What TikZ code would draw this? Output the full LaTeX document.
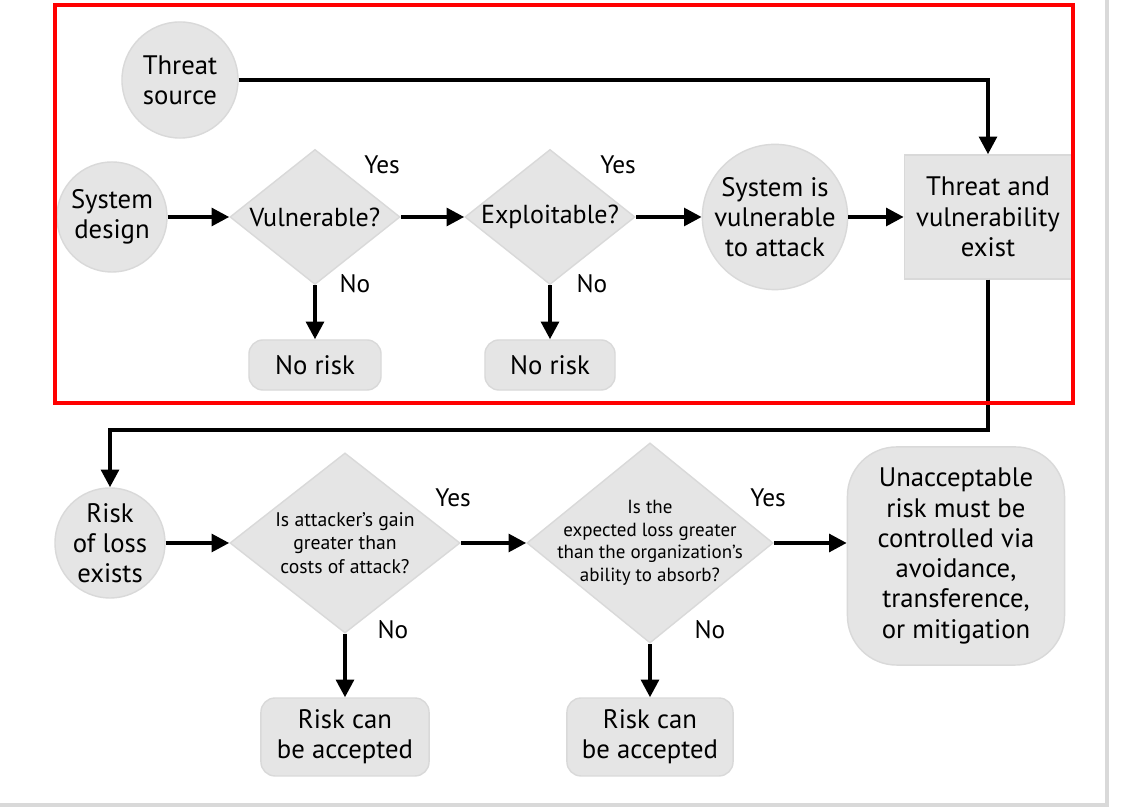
\documentclass[tikz,border=0pt]{standalone}
\usepackage{fontspec}
\setmainfont{PT Sans}
\usetikzlibrary{arrows.meta,shapes.geometric}
\begin{document}
\begin{tikzpicture}[x=0.01cm,y=-0.01cm,
    blob/.style={circle, fill=black!10, draw=black!15, inner sep=0pt, align=center, font=\fontsize{7.6}{8.6}\selectfont},
    dia/.style={diamond, fill=black!10, draw=black!15, inner sep=0pt, align=center, aspect=1.3},
    box/.style={rectangle, rounded corners=4pt, fill=black!10, draw=black!15, align=center, font=\fontsize{7.6}{8.6}\selectfont},
    lbl/.style={inner sep=0pt, font=\fontsize{7.2}{8}\selectfont},
    arr/.style={-{Triangle[length=5pt,width=5pt]}, line width=1.1pt}
  ]
  \useasboundingbox (0,0) rectangle (1123,810);
  \fill[white] (0,0) rectangle (1123,810);
  \draw[black!15, line width=1pt] (1107,0) -- (1107,805) -- (0,805);

  % top row
  \node[blob, minimum size=1.16cm] (src) at (180,80) {Threat\\source};
  \node[blob, minimum size=1.10cm] (sys) at (112,217) {System\\design};
  \node[dia, minimum width=1.70cm, minimum height=1.35cm, font=\fontsize{7.4}{8.4}\selectfont] (vul) at (315,217) {Vulnerable?};
  \node[dia, minimum width=1.70cm, minimum height=1.35cm, font=\fontsize{7.4}{8.4}\selectfont] (exp) at (550,217) {Exploitable?};
  \node[blob, minimum size=1.44cm] (att) at (775,217) {System is\\vulnerable\\to attack};
  \node[box, rounded corners=0pt, minimum width=1.55cm, minimum height=1.24cm] (tv) at (988,217) {Threat and\\vulnerability\\exist};
  \node[box, minimum width=1.32cm, minimum height=0.50cm] (nr1) at (315,365) {No risk};
  \node[box, minimum width=1.30cm, minimum height=0.50cm] (nr2) at (550,365) {No risk};

  \node[lbl] at (382,165) {Yes};
  \node[lbl] at (618,165) {Yes};
  \node[lbl] at (355,284) {No};
  \node[lbl] at (592,284) {No};

  % bottom row
  \node[blob, minimum size=1.10cm] (rsk) at (110,543) {Risk\\of loss\\exists};
  \node[dia, minimum width=2.30cm, minimum height=1.80cm, font=\fontsize{5.6}{6.6}\selectfont] (gain) at (345,543) {Is attacker's gain\\greater than\\costs of attack?};
  \node[dia, inner sep=-9pt, minimum width=2.46cm, minimum height=2.00cm, font=\fontsize{5.4}{6.4}\selectfont] (loss) at (650,543) {Is the\\expected loss greater\\than the organization's\\ability to absorb?};
  \node[box, rounded corners=14pt, minimum width=2.17cm, minimum height=2.18cm] (ctl) at (956,556) {Unacceptable\\risk must be\\controlled via\\avoidance,\\transference,\\or mitigation};
  \node[box, minimum width=1.68cm, minimum height=0.75cm] (acc1) at (345,737) {Risk can\\be accepted};
  \node[box, minimum width=1.66cm, minimum height=0.75cm] (acc2) at (650,737) {Risk can\\be accepted};

  \node[lbl] at (453,498) {Yes};
  \node[lbl] at (768,498) {Yes};
  \node[lbl] at (393,630) {No};
  \node[lbl] at (710,630) {No};

  % connectors
  \draw[arr] (src.east) -| (tv.north);
  \draw[arr] (sys) -- (vul);
  \draw[arr] (vul) -- (exp);
  \draw[arr] (exp) -- (att);
  \draw[arr] (att) -- (tv);
  \draw[arr] (vul.south) -- (nr1);
  \draw[arr] (exp.south) -- (nr2);
  \draw[arr] (tv.south) -- (988,430) -| (rsk.north);
  \draw[arr] (rsk) -- (gain);
  \draw[arr] (gain) -- (loss);
  \draw[arr] (loss) -- (loss -| ctl.west);
  \draw[arr] (gain.south) -- (acc1);
  \draw[arr] (loss.south) -- (acc2);

  \draw[red, line width=1.2pt] (55,5) rectangle (1073,403);
\end{tikzpicture}
\end{document}
